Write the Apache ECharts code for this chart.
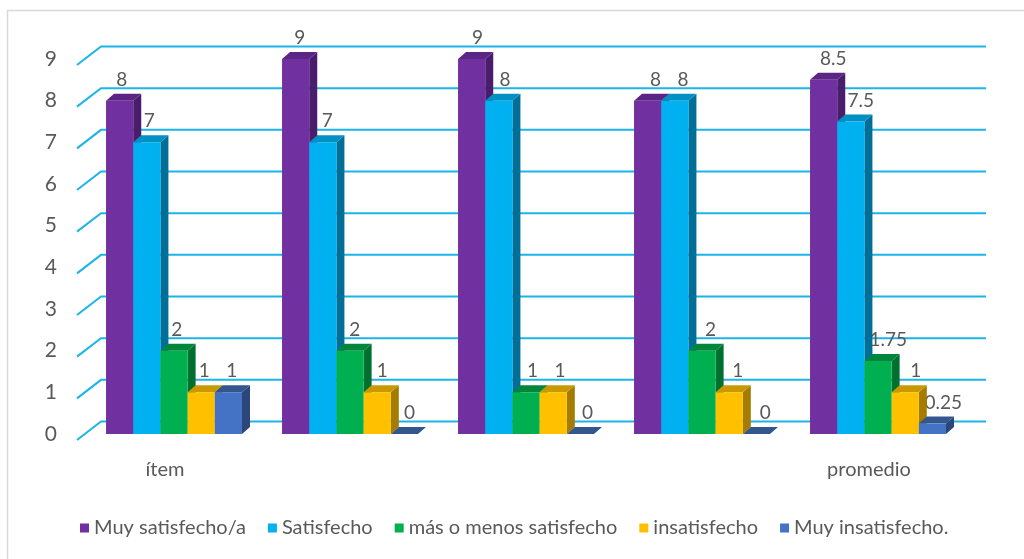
<!DOCTYPE html>
<html><head><meta charset="utf-8">
<script src="https://cdn.jsdelivr.net/npm/echarts@6/dist/echarts.min.js"></script>
<style>html,body{margin:0;padding:0;background:#fff;}#c{width:1024px;height:559px;}</style>
</head><body><div id="c"></div>
<script>
const categories = ['ítem', '', '', '', 'promedio'];
const seriesNames = ['Muy satisfecho/a', 'Satisfecho', 'más o menos satisfecho', 'insatisfecho', 'Muy insatisfecho.'];
const muySatisfecho = [8, 9, 9, 8, 8.5];
const satisfecho = [7, 7, 8, 8, 7.5];
const masOMenosSatisfecho = [2, 2, 1, 2, 1.75];
const insatisfecho = [1, 1, 1, 1, 1];
const muyInsatisfecho = [1, 0, 0, 0, 0.25];
const yTicks = [0, 1, 2, 3, 4, 5, 6, 7, 8, 9];

const allValues = [muySatisfecho, satisfecho, masOMenosSatisfecho, insatisfecho, muyInsatisfecho];
const FRONT = ['#7030A0', '#00B0F0', '#00B050', '#FFC000', '#4472C4'];
const SIDE = ['#4A1C6C', '#006F98', '#00702F', '#A47C00', '#2B4679'];
const TOP = ['#5A2585', '#0090C4', '#00863C', '#C99A00', '#33568F'];
const DX = 8, DY = 7;
const BAR_FRAC = 0.1545, START_FRAC = 0.335;
const FONT = 'Lato, "Open Sans", sans-serif';

function geom(api, i, v, si) {
  const band = api.size([1, 0])[0];
  const w = band * BAR_FRAC;
  const p0 = api.coord([i, 0]);
  const p1 = api.coord([i, v]);
  const x0 = p0[0] - band * START_FRAC + si * w;
  return { x0: x0, x1: x0 + w, y0: p0[1], y1: p1[1], w: w };
}

function barRender(si) {
  return function (params, api) {
    const g = geom(api, api.value(0), api.value(1), si);
    const ch = [];
    ch.push({ type: 'polygon', shape: { points: [[g.x1, g.y1], [g.x1 + DX, g.y1 - DY], [g.x1 + DX, g.y0 - DY], [g.x1, g.y0]] }, style: { fill: SIDE[si] } });
    ch.push({ type: 'polygon', shape: { points: [[g.x0, g.y1], [g.x0 + DX, g.y1 - DY], [g.x1 + DX, g.y1 - DY], [g.x1, g.y1]] }, style: { fill: TOP[si] } });
    if (g.y0 - g.y1 > 0.1) ch.push({ type: 'rect', shape: { x: g.x0, y: g.y1, width: g.w, height: g.y0 - g.y1 }, style: { fill: FRONT[si] } });
    return { type: 'group', children: ch };
  };
}

const series = [];
series.push({
  type: 'custom', name: 'grid', z: 1, silent: true,
  data: yTicks.map(t => [0, t]),
  renderItem: function (params, api) {
    const cs = params.coordSys;
    const y = api.coord([0, api.value(1)])[1];
    const L = cs.x;
    return { type: 'polyline', shape: { points: [[L, y + 6], [L + 24, y - 12.5], [cs.x + cs.width + 29, y - 12.5]] }, style: { stroke: '#1DB4EA', lineWidth: 2, fill: null } };
  }
});
const labelData = [];
allValues.forEach((arr, si) => arr.forEach((v, i) => labelData.push([i, v, si])));
series.push({
  type: 'custom', name: 'labels', z: 2, silent: true,
  data: labelData,
  renderItem: function (params, api) {
    const si = api.value(2);
    const v = api.value(1);
    const g = geom(api, api.value(0), v, si);
    const xc = (g.x0 + g.x1) / 2;
    const shift = 2 + 9 * (xc - 100) / 850;
    return { type: 'text', style: { text: String(v), x: xc + shift, y: g.y1 - 21, align: 'center', verticalAlign: 'middle', fill: '#595959', fontSize: 19, fontFamily: FONT } };
  }
});
allValues.forEach((arr, si) => {
  series.push({
    type: 'custom', name: seriesNames[si], z: 3,
    itemStyle: { color: FRONT[si] },
    data: arr.map((v, i) => [i, v]),
    renderItem: barRender(si)
  });
});

const chart = echarts.init(document.getElementById('c'), null, { renderer: 'canvas' });
chart.setOption({
  animation: false,
  backgroundColor: '#ffffff',
  graphic: [{ type: 'rect', shape: { x: 7.5, y: 10.5, width: 1040, height: 580 }, style: { fill: null, stroke: '#D9D9D9', lineWidth: 1.5 }, silent: true }],
  grid: { left: 77, right: 67, top: 59, bottom: 125 },
  xAxis: {
    type: 'category', data: categories,
    axisLine: { show: false }, axisTick: { show: false }, splitLine: { show: false },
    axisLabel: { margin: 26, fontSize: 20, color: '#595959', fontFamily: FONT, interval: 0 }
  },
  yAxis: {
    type: 'value', min: 0, max: 9, interval: 1,
    axisLine: { show: false }, axisTick: { show: false }, splitLine: { show: false },
    axisLabel: { margin: 20, fontSize: 21, color: '#595959', fontFamily: FONT, verticalAlign: 'middle', padding: [6, 0, 0, 0] }
  },
  legend: {
    data: seriesNames, left: 75, top: 513, icon: 'rect', itemWidth: 9, itemHeight: 9, itemGap: 22,
    textStyle: { fontSize: 20, color: '#595959', fontFamily: FONT }
  },
  series: series
});
</script></body></html>
